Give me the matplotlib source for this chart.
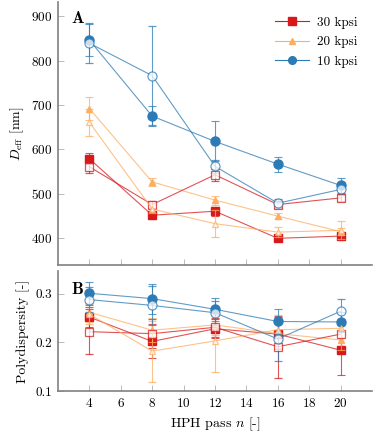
import matplotlib
matplotlib.use("Agg")
import matplotlib.pyplot as plt
from matplotlib.lines import Line2D

plt.rcParams['font.family'] = ['cmr10', 'DejaVu Serif']
plt.rcParams['mathtext.fontset'] = 'cm'
plt.rcParams['axes.unicode_minus'] = False
plt.rcParams['axes.formatter.use_mathtext'] = True
plt.rcParams['font.size'] = 9.5

passes = [4, 8, 12, 16, 20]

# Effective diameter [nm]
d30_f = [579, 452, 461, 400, 405]
d30_f_err = [12, 8, 10, 6, 8]
d30_o = [561, 476, 543, 476, 491]
d30_o_err = [15, 8, 13, 8, 6]
d20_f = [692, 527, 486, 450, 415]
d20_f_err = [25, 9, 10, 6, 8]
d20_o = [661, 466, 433, 414, 418]
d20_o_err = [30, 8, 30, 12, 20]
d10_f = [846, 675, 618, 567, 519]
d10_f_err = [36, 22, 45, 17, 16]
d10_o = [839, 766, 562, 479, 510]
d10_o_err = [45, 111, 14, 10, 10]

# Polydispersity [-]
p30_f = [0.252, 0.202, 0.228, 0.217, 0.184]
p30_f_err = [0.02, 0.035, 0.02, 0.03, 0.051]
p30_o = [0.222, 0.218, 0.231, 0.191, 0.217]
p30_o_err = [0.046, 0.03, 0.02, 0.064, 0.03]
p20_f = [0.262, 0.225, 0.236, 0.218, 0.205]
p20_f_err = [0.02, 0.025, 0.02, 0.03, 0.02]
p20_o = [0.258, 0.182, 0.203, 0.226, 0.229]
p20_o_err = [0.02, 0.063, 0.063, 0.03, 0.02]
p10_f = [0.301, 0.290, 0.268, 0.243, 0.242]
p10_f_err = [0.024, 0.031, 0.024, 0.025, 0.02]
p10_o = [0.288, 0.276, 0.261, 0.207, 0.264]
p10_o_err = [0.025, 0.04, 0.025, 0.045, 0.025]

labels = ['30 kpsi', '20 kpsi', '10 kpsi']
colors = ['#d7191c', '#fdae61', '#2c7bb6']
markers = ['s', '^', 'o']
msizes = [6, 5, 6.5]

fig = plt.figure(figsize=(3.77, 4.32), dpi=100)
ax1 = fig.add_axes([0.1538, 0.3866, 0.833, 0.609])
ax2 = fig.add_axes([0.1538, 0.0949, 0.833, 0.278])

D = [(d30_f, d30_f_err, d30_o, d30_o_err),
     (d20_f, d20_f_err, d20_o, d20_o_err),
     (d10_f, d10_f_err, d10_o, d10_o_err)]
P = [(p30_f, p30_f_err, p30_o, p30_o_err),
     (p20_f, p20_f_err, p20_o, p20_o_err),
     (p10_f, p10_f_err, p10_o, p10_o_err)]


def draw(ax, data):
    for (yf, ef, yo, eo), c, m, ms in zip(data, colors, markers, msizes):
        ax.errorbar(passes, yo, yerr=eo, color=c, lw=0.8, alpha=0.75,
                    elinewidth=0.8, capsize=2.8, capthick=0.8,
                    marker=m, ms=ms, mfc='white', mec=c, mew=0.9)
        ax.errorbar(passes, yf, yerr=ef, color=c, lw=0.8, alpha=0.75,
                    elinewidth=0.8, capsize=2.8, capthick=0.8, fmt='none')
        ax.plot(passes, yf, color=c, lw=0.8, alpha=0.75)
        ax.plot(passes, yf, ls='none', marker=m, ms=ms, mfc=c, mec=c)


draw(ax1, D)
draw(ax2, P)

for ax in (ax1, ax2):
    for s in ('top', 'right'):
        ax.spines[s].set_visible(False)
    for s in ('left', 'bottom'):
        ax.spines[s].set_color('#808080')
        ax.spines[s].set_linewidth(1.2)
    ax.tick_params(direction='in', color='#b0b0b0', length=4, width=0.6,
                   labelsize=9.5, pad=4)
    ax.set_xlim(2, 22)
    ax.set_xticks([4, 6, 8, 10, 12, 14, 16, 18, 20])

ax1.set_ylim(340, 932)
ax1.set_yticks([400, 500, 600, 700, 800, 900])
ax1.tick_params(labelbottom=False)
ax1.set_ylabel(r'$D_{\mathrm{eff}}$ [nm]', fontsize=10)

ax2.set_ylim(0.1, 0.347)
ax2.set_yticks([0.1, 0.2, 0.3])
ax2.set_yticklabels(['0.1', '0.2', '0.3'])
ax2.set_ylabel('Polydispersity [-]', fontsize=10)
ax2.set_xlabel(r'HPH pass $n$ [-]', fontsize=10)

ax1.text(0.04, 0.97, r'$\mathbf{A}$', transform=ax1.transAxes,
         fontsize=12, va='top', ha='left')
ax2.text(0.04, 0.92, r'$\mathbf{B}$', transform=ax2.transAxes,
         fontsize=12, va='top', ha='left')

handles = [Line2D([], [], color=c, marker=m, ms=ms * 0.85, lw=0.8,
                  mfc=c, mec=c) for c, m, ms in zip(colors, markers, msizes)]
leg = ax1.legend(handles, labels, loc='upper right', frameon=False,
                 fontsize=9.5, handlelength=2.6, labelspacing=0.55,
                 borderaxespad=0.7, handletextpad=0.6)

fig.savefig('out.png', dpi=100)
